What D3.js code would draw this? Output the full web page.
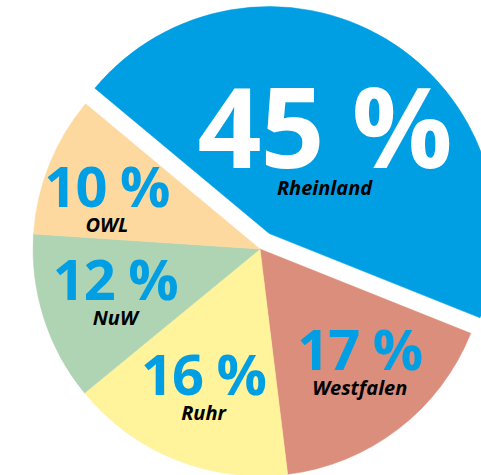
<!DOCTYPE html>
<html><head><meta charset="utf-8">
<script src="https://cdn.jsdelivr.net/npm/d3@7"></script>
<style>html,body{margin:0;padding:0;background:#fff;overflow:hidden}</style>
</head><body><svg id="chart" width="481" height="475"></svg>
<script>
// ---- data ----
const categories = ["Rheinland", "Westfalen", "Ruhr", "NuW", "OWL"];
const values = [45, 17, 16, 12, 10];
const valueLabels = ["45 %", "17 %", "16 %", "12 %", "10 %"];
const colors = ["#009fe3", "#dc8e7d", "#fff39b", "#afd4b4", "#fdd9a0"];
const explodedCategories = ["Rheinland"];

// ---- layout ----
const W = 481, H = 475, cx = 260, cy = 249, R = 227, explodeDist = 18;
const startAngle = -50.2 * Math.PI / 180;
const labelRadiusSmall = 152, labelRadiusBig = 108;
const labelNudge = { OWL: [-12, 9], Westfalen: [7, -4] };
const font = "'Open Sans', 'Noto Sans', sans-serif";

const data = categories.map((c, i) => ({ cat: c, value: values[i], label: valueLabels[i], color: colors[i] }));

const svg = d3.select("#chart");
svg.append("rect").attr("width", W).attr("height", H).attr("fill", "#fff");
const g = svg.append("g").attr("transform", `translate(${cx},${cy})`);

const pie = d3.pie().sort(null).value(d => d.value)
  .startAngle(startAngle).endAngle(startAngle + 2 * Math.PI);
const arc = d3.arc().innerRadius(0).outerRadius(R);
const arcs = pie(data);

function offsetOf(a) {
  if (!explodedCategories.includes(a.data.cat)) return [0, 0];
  const m = (a.startAngle + a.endAngle) / 2;
  return [explodeDist * Math.sin(m), -explodeDist * Math.cos(m)];
}

const slices = g.selectAll("g.slice").data(arcs).join("g")
  .attr("class", "slice")
  .attr("transform", d => { const o = offsetOf(d); return `translate(${o[0]},${o[1]})`; });

slices.append("path")
  .attr("d", arc)
  .attr("fill", d => d.data.color)
  .attr("stroke", d => d.data.color)
  .attr("stroke-width", 0.5);

slices.each(function (d) {
  const big = explodedCategories.includes(d.data.cat);
  const lr = big ? labelRadiusBig : labelRadiusSmall;
  const la = d3.arc().innerRadius(lr).outerRadius(lr);
  let [x, y] = la.centroid(d);
  const n = labelNudge[d.data.cat] || [0, 0];
  x += n[0]; y += n[1];
  const sel = d3.select(this);
  sel.append("text")
    .attr("x", x).attr("y", y + (big ? 27 : 5))
    .attr("text-anchor", "middle")
    .attr("font-family", font)
    .attr("font-weight", 700)
    .attr("font-size", big ? 112 : 56)
    .attr("letter-spacing", big ? -1 : -1)
    .attr("fill", big ? "#ffffff" : "#009fe3")
    .text(d.data.label);
  sel.append("text")
    .attr("x", x).attr("y", y + (big ? 54 : 30))
    .attr("text-anchor", "middle")
    .attr("font-family", font)
    .attr("font-weight", 700)
    .attr("font-style", "italic")
    .attr("font-size", 20)
    .attr("fill", "#000")
    .text(d.data.cat);
});
</script>
</body></html>
